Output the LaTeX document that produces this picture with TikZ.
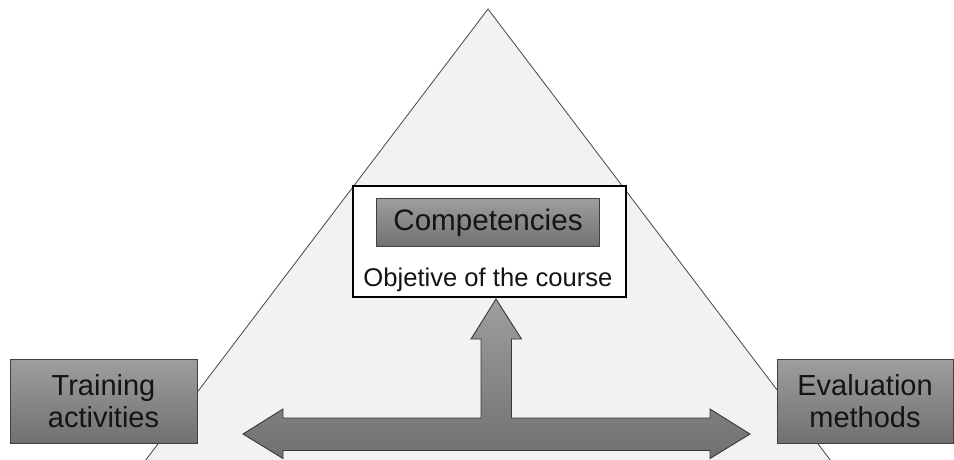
\documentclass[tikz,border=0pt]{standalone}
\usepackage{fontspec}
\setmainfont{Liberation Sans}
\begin{document}
\begin{tikzpicture}[x=1pt,y=-1pt,
  graybox/.style={draw=black!75, line width=0.9pt, top color=black!38, bottom color=black!56,
    text=black!92, inner sep=0pt, align=center, font=\fontsize{29}{31.6}\selectfont},
  framebox/.style={draw=black, line width=1.6pt, fill=white, inner sep=0pt},
  tri/.style={draw=black!72, line width=0.8pt, fill=black!5},
  bigarrow/.style={draw=black!78, line width=0.9pt, top color=black!38, bottom color=black!56, line join=miter},
  caption/.style={text=black!92, inner sep=0pt, font=\fontsize{25.6}{28}\selectfont}
]
\useasboundingbox (0,0) rectangle (954,459);
\begin{scope}
\clip (0,0) rectangle (954,459);
% triangle
\draw[tri] (488,9) -- (115.4,500) -- (860.6,500) -- cycle;
% objective frame
\node[framebox, minimum width=273pt, minimum height=111pt] (frame) at (489.5,241.5) {};
\node[graybox, minimum width=222.6pt, minimum height=48.4pt] (comp) at (488,222.5) {\fontsize{29.6}{32}\selectfont Competencies};
\node[caption, anchor=base] (obj) at (488,286.5) {Objetive of the course};
% T-shaped double arrow
\draw[bigarrow] (243,434) -- (283,409) -- (283,418) -- (481,418) -- (481,339) -- (471,339)
  -- (496,299) -- (521.5,339) -- (511.5,339) -- (511.5,418) -- (710,418) -- (710,409)
  -- (750,434) -- (710,458.5) -- (710,450.5) -- (283,450.5) -- (283,458.5) -- cycle;
% side boxes
\node[graybox, minimum width=187pt, minimum height=84pt] (train) at (103.5,401) {Training\\activities};
\node[graybox, minimum width=176pt, minimum height=84pt] (eval) at (865,401) {Evaluation\\methods};
\end{scope}
\end{tikzpicture}
\end{document}
